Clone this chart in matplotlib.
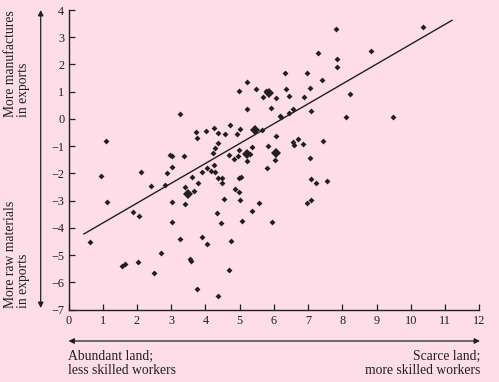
import matplotlib
matplotlib.use("Agg")
import matplotlib.pyplot as plt

# --- data ---
x_small = [1.10, 0.94, 2.13, 3.27, 2.41, 2.82, 2.87, 2.97, 3.02, 3.02,
           3.37, 3.40, 3.66, 3.60, 3.78, 3.73, 3.75, 4.03, 4.26, 4.37,
           4.57, 4.71, 4.91, 5.01, 4.99, 5.21, 5.21, 4.36, 4.27, 4.22,
           3.89, 4.05, 4.16, 4.24, 4.27, 4.36, 4.49, 4.49, 4.68, 4.82,
           4.95, 4.99, 5.22, 4.97, 5.03, 4.87, 4.97, 4.55, 0.63, 1.13,
           1.89, 2.05, 2.03, 1.56, 1.66, 2.49, 2.70, 3.03, 3.03, 3.40,
           3.27, 3.54, 3.57, 3.75, 3.89, 4.04, 4.34, 4.44, 4.38, 4.74,
           4.68, 5.00, 5.08, 5.35, 5.56, 5.94, 6.97, 7.08, 7.22, 7.56,
           7.81, 10.36, 7.29, 8.83, 7.83, 7.85, 6.31, 6.98, 7.41, 5.49,
           6.34, 7.06, 5.77, 5.68, 6.07, 6.43, 6.89, 8.22, 5.91, 6.55,
           6.43, 6.18, 6.22, 7.08, 8.10, 9.48, 5.64, 6.05, 5.37, 5.83,
           5.30, 6.04, 5.80, 6.55, 6.59, 6.70, 6.85, 7.44, 7.05, 7.08]
y_small = [-0.80, -2.08, -1.93, 0.17, -2.45, -2.41, -1.99, -1.33, -1.36, -1.76,
           -1.37, -2.48, -2.64, -2.13, -2.34, -0.49, -0.71, -0.43, -0.33, -0.50,
           -0.54, -0.21, -0.54, -0.38, 1.04, 1.35, 0.37, -0.87, -1.08, -1.24,
           -1.94, -1.81, -1.90, -1.69, -1.93, -2.18, -2.17, -2.35, -1.33, -1.46,
           -1.35, -1.13, -1.53, -2.15, -2.12, -2.56, -2.68, -2.94, -4.51, -3.03,
           -3.42, -3.55, -5.25, -5.38, -5.33, -5.65, -4.92, -3.06, -3.77, -3.12,
           -4.42, -5.14, -5.21, -6.25, -4.34, -4.60, -3.44, -3.83, -6.50, -4.47,
           -5.53, -2.97, -3.73, -3.36, -3.09, -3.79, -3.09, -2.97, -2.36, -2.28,
           3.30, 3.38, 2.42, 2.48, 2.20, 1.92, 1.68, 1.69, 1.43, 1.10,
           1.09, 1.13, 1.03, 0.81, 0.76, 0.83, 0.82, 0.93, 0.42, 0.36,
           0.22, 0.11, 0.06, 0.28, 0.09, 0.07, -0.40, -0.61, -1.03, -0.99,
           -1.28, -1.50, -1.81, -0.86, -0.97, -0.75, -0.93, -0.82, -1.42, -2.19]

# larger markers (several countries on top of each other)
x_big = [3.48, 5.21, 5.85, 5.46, 6.07]
y_big = [-2.75, -1.27, 0.97, -0.39, -1.26]

# fitted line
line_x = [0.45, 11.2]
line_y = [-4.22, 3.62]

x_ticks = list(range(0, 13))
y_ticks = list(range(-7, 5))

ink = "#231f20"
pink = "#fcdde8"

plt.rcParams["font.family"] = ["Liberation Serif", "DejaVu Serif"]

fig = plt.figure(figsize=(4.99, 3.82), dpi=100, facecolor=pink)
ax = fig.add_axes([0.1373, 0.1893, 0.8232, 0.7845], facecolor=pink)

ax.plot(line_x, line_y, color=ink, lw=1.0)
ax.plot(x_small, y_small, "D", color=ink, ms=3.0, mew=0)
ax.plot(x_big, y_big, "D", color=ink, ms=5.4, mew=0)

ax.set_xlim(0, 12)
ax.set_ylim(-7, 4)
ax.set_xticks(x_ticks)
ax.set_yticks(y_ticks)
for s in ["top", "right"]:
    ax.spines[s].set_visible(False)
for s in ["left", "bottom"]:
    ax.spines[s].set_color(ink)
    ax.spines[s].set_linewidth(1.0)
ax.tick_params(direction="in", length=4, width=0.9, color=ink,
               labelcolor=ink, labelsize=8.8, pad=3)
ax.tick_params(axis="x", pad=4)

# axis arrows and captions
arr = dict(arrowstyle="<|-|>", color=ink, lw=0.9, mutation_scale=8,
           shrinkA=0, shrinkB=0)
ax.annotate("", xy=(40.7 / 499, 1 - 10 / 382), xytext=(40.7 / 499, 1 - 308 / 382),
            xycoords="figure fraction", textcoords="figure fraction", arrowprops=arr)
ax.annotate("", xy=(68.5 / 499, 1 - 341 / 382), xytext=(480 / 499, 1 - 341 / 382),
            xycoords="figure fraction", textcoords="figure fraction", arrowprops=arr)

fig.text(17 / 499, 1 - 10 / 382, "More manufactures\nin exports", rotation=90,
         ha="center", va="top", multialignment="left", fontsize=9.8,
         color=ink, linespacing=1.0)
fig.text(17 / 499, 1 - 308 / 382, "More raw materials\nin exports", rotation=90,
         ha="center", va="bottom", multialignment="left", fontsize=9.8,
         color=ink, linespacing=1.0)
fig.text(68.5 / 499, 1 - 350 / 382, "Abundant land;\nless skilled workers",
         ha="left", va="top", fontsize=9.8, color=ink, linespacing=1.1)
fig.text(480 / 499, 1 - 350 / 382, "Scarce land;\nmore skilled workers",
         ha="right", va="top", multialignment="right", fontsize=9.8,
         color=ink, linespacing=1.1)

fig.savefig("out.png", dpi=100, facecolor=pink)
